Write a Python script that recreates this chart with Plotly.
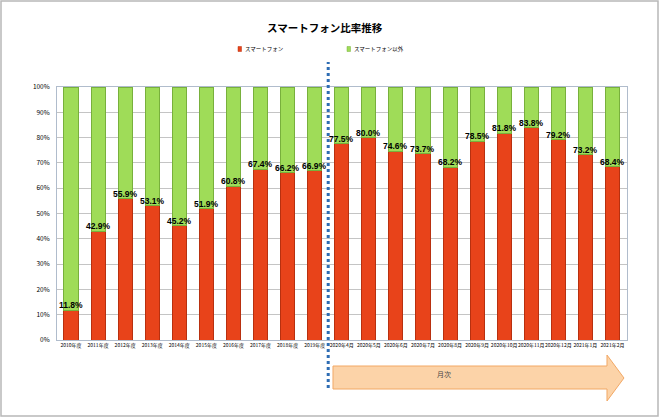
import plotly.graph_objects as go

categories = ["2010年度", "2011年度", "2012年度", "2013年度", "2014年度", "2015年度",
              "2016年度", "2017年度", "2018年度", "2019年度",
              "2020年4月", "2020年5月", "2020年6月", "2020年7月", "2020年8月", "2020年9月",
              "2020年10月", "2020年11月", "2020年12月", "2021年1月", "2021年2月"]
smartphone = [11.8, 42.9, 55.9, 53.1, 45.2, 51.9, 60.8, 67.4, 66.2, 66.9,
              77.5, 80.0, 74.6, 73.7, 68.2, 78.5, 81.8, 83.8, 79.2, 73.2, 68.4]
other = [round(100 - v, 1) for v in smartphone]
yticks = [0, 10, 20, 30, 40, 50, 60, 70, 80, 90, 100]
series_names = ["スマートフォン", "スマートフォン以外"]
title_text = "スマートフォン比率推移"
arrow_text = "月次"

JP = "Noto Sans CJK JP"
RED = "#e8431a"
GREEN = "#9fdc58"

W, H = 660, 418
L, R, T, B = 57, 33, 87, 78
pw, ph = W - L - R, H - T - B


def px(x):
    return (x - L) / pw


def py(y):
    return (H - B - y) / ph


fig = go.Figure()
fig.add_trace(go.Bar(x=categories, y=smartphone, name=series_names[0],
                     marker=dict(color=RED, line=dict(color="#b8300f", width=1)),
                     width=0.52, hoverinfo="x+y"))
fig.add_trace(go.Bar(x=categories, y=other, name=series_names[1],
                     marker=dict(color=GREEN, line=dict(color="#78b03c", width=1)),
                     width=0.52, hoverinfo="x+y"))

annotations = []
for c, v in zip(categories, smartphone):
    annotations.append(dict(x=c, y=v, xref="x", yref="y", text=f"<b>{v:.1f}%</b>",
                            showarrow=False, yanchor="bottom", yshift=-2,
                            font=dict(family="Liberation Sans", size=8.5, color="#000000")))

# title
annotations.append(dict(x=px(325), y=py(27), xref="paper", yref="paper", text=f"<b>{title_text}</b>",
                        showarrow=False, yanchor="middle",
                        font=dict(family=JP, size=10.5, color="#000000")))
# legend texts
annotations.append(dict(x=px(243), y=py(49), xref="paper", yref="paper", text=series_names[0],
                        showarrow=False, xanchor="left", yanchor="middle",
                        font=dict(family=JP, size=5.5, color="#000000")))
annotations.append(dict(x=px(352), y=py(49), xref="paper", yref="paper", text=series_names[1],
                        showarrow=False, xanchor="left", yanchor="middle",
                        font=dict(family=JP, size=5.5, color="#000000")))
# arrow text
annotations.append(dict(x=px(453), y=py(374), xref="paper", yref="paper", text=arrow_text,
                        showarrow=False, yanchor="middle",
                        font=dict(family=JP, size=7, color="#444444")))

shapes = []
# outer frame
shapes.append(dict(type="rect", xref="paper", yref="paper", x0=px(1), x1=px(658), y0=py(416), y1=py(1),
                   line=dict(color="#b8b8b8", width=1.5), fillcolor="rgba(0,0,0,0)", layer="below"))
# legend squares
shapes.append(dict(type="rect", xref="paper", yref="paper", x0=px(238), x1=px(241.5), y0=py(51.5), y1=py(46.5),
                   line=dict(color="#b8300f", width=0.5), fillcolor=RED))
shapes.append(dict(type="rect", xref="paper", yref="paper", x0=px(347), x1=px(350.5), y0=py(51.5), y1=py(46.5),
                   line=dict(color="#78b03c", width=0.5), fillcolor=GREEN))
# dashed divider
shapes.append(dict(type="line", xref="x", yref="paper", x0=9.5, x1=9.5, y0=py(388), y1=py(62),
                   line=dict(color="#2e6db4", width=3, dash="dot")))
# arrow
pts = [(333, 366), (607, 366), (607, 355), (624, 378), (607, 401), (607, 389), (333, 389)]
path = "M " + " L ".join(f"{px(x):.4f},{py(y):.4f}" for x, y in pts) + " Z"
shapes.append(dict(type="path", xref="paper", yref="paper", path=path,
                   fillcolor="#fcd3a8", line=dict(color="#f2a865", width=1)))

fig.update_layout(
    width=W, height=H,
    margin=dict(l=L, r=R, t=T, b=B, pad=0),
    barmode="stack",
    bargap=0.48,
    showlegend=False,
    paper_bgcolor="white",
    plot_bgcolor="white",
    annotations=annotations,
    shapes=shapes,
    font=dict(family=JP),
    xaxis=dict(type="category", tickfont=dict(family=JP, size=5, color="#000000"),
               tickangle=0, showgrid=False, showline=True, linecolor="#b0bccc", mirror=True,
               ticks="", ticklen=0),
    yaxis=dict(range=[0, 100], tickvals=yticks, ticktext=[f"{t}%" for t in yticks],
               tickfont=dict(family=JP, size=6.5, color="#000000"),
               showgrid=True, gridcolor="#c4c4c4", gridwidth=1, ticklabelstandoff=5,
               showline=True, linecolor="#b0bccc", mirror=True, zeroline=False,
               ticks="", ticklen=0),
)

fig.write_html("out.html", config={"displayModeBar": False},
               post_script="document.body.style.margin='0';document.body.style.overflow='hidden';")
